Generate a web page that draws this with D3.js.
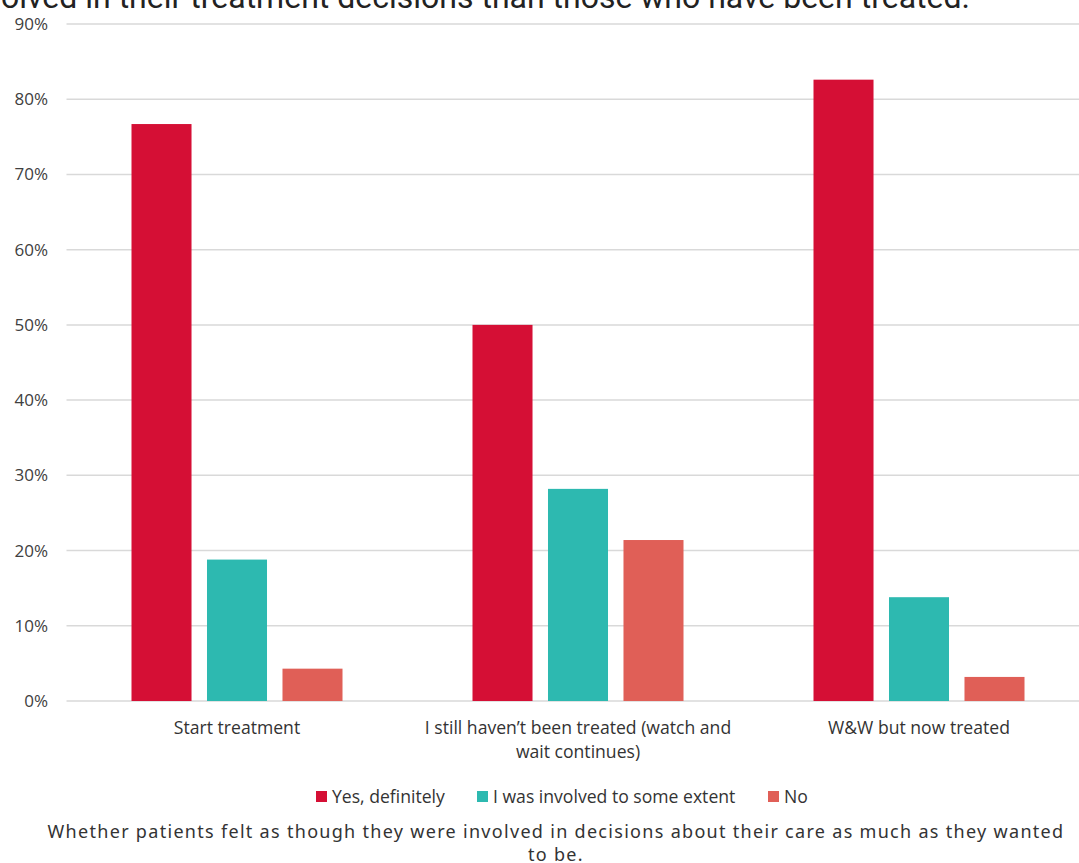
<!DOCTYPE html>
<html><head><meta charset="utf-8">
<script src="https://cdn.jsdelivr.net/npm/d3@7"></script>
<style>
body{margin:0;background:#fff;}
svg{display:block;}
</style></head>
<body>
<svg id="chart" width="1079" height="863"></svg>
<script>
const categories = ["Start treatment", "I still haven\u2019t been treated (watch and wait continues)", "W&W but now treated"];
const categoryLines = [["Start treatment"], ["I still  haven\u2019t been treated (watch and", "wait continues)"], ["W&W but now treated"]];
const seriesNames = ["Yes, definitely", "I was involved to some extent", "No"];
const yesDefinitely = [76.7, 50.0, 82.6];
const someExtent = [18.8, 28.2, 13.8];
const no = [4.3, 21.4, 3.2];
const seriesValues = [yesDefinitely, someExtent, no];
const yTicks = [0, 10, 20, 30, 40, 50, 60, 70, 80, 90];
const colors = ["#D50F35", "#2DB9B0", "#E05F57"];
const titleText = "Patients on watch and wait felt less involved in their treatment decisions than those who have been treated.";
const captionLines = ["Whether patients felt as though they were involved in decisions about their care as much as they wanted", "to be."];

const svg = d3.select("#chart");
const mLeft = 66.5, mRight = 1089.5, mTop = 24, mBottom = 701;

const x = d3.scaleBand().domain(categories).range([mLeft, mRight]);
const y = d3.scaleLinear().domain([0, 90]).range([mBottom, mTop]);
const xs = d3.scaleBand().domain(seriesNames).range([-105.5, 105.5]).paddingInner(0.205).paddingOuter(0);

// Title (clipped at top)
svg.append("text").attr("x", 970).attr("y", 8).attr("text-anchor", "end")
  .attr("font-family", "Roboto").attr("font-size", 32).attr("fill", "#222")
  .text(titleText);

// gridlines
svg.append("g").selectAll("line").data(yTicks).join("line")
  .attr("x1", mLeft).attr("x2", mRight)
  .attr("y1", d => y(d)).attr("y2", d => y(d))
  .attr("stroke", "#d9d9d9").attr("stroke-width", 1.5);

// y axis labels
const yAxis = d3.axisLeft(y).tickValues(yTicks).tickFormat(d => d + "%").tickSize(0).tickPadding(0);
const gy = svg.append("g").attr("transform", "translate(48,0)").call(yAxis);
gy.select(".domain").remove();
gy.selectAll("text").attr("font-family", "Open Sans").attr("font-size", 17).attr("fill", "#404040").attr("dy", "0.32em");

// bars
const groups = svg.append("g").selectAll("g").data(categories).join("g")
  .attr("transform", c => `translate(${x(c) + x.bandwidth()/2},0)`);
groups.selectAll("rect").data((c, i) => seriesNames.map((s, j) => ({s, v: seriesValues[j][i], j})))
  .join("rect")
  .attr("x", d => xs(d.s))
  .attr("width", xs.bandwidth())
  .attr("y", d => y(d.v))
  .attr("height", d => mBottom - y(d.v))
  .attr("fill", d => colors[d.j]);

// category labels
const cl = svg.append("g").selectAll("text").data(categories).join("text")
  .attr("text-anchor", "middle")
  .attr("font-family", "Open Sans").attr("font-size", 17.6).attr("fill", "#333");
cl.each(function(c, i) {
  categoryLines[i].forEach((line, k) => {
    d3.select(this).append("tspan").attr("x", x(c) + x.bandwidth()/2).attr("y", 734 + k * 24).text(line);
  });
});

// legend
const legendX = [316, 477, 768];
const lg = svg.append("g").selectAll("g").data(seriesNames).join("g")
  .attr("transform", (d, i) => `translate(${legendX[i]},797)`);
lg.append("rect").attr("x", 0).attr("y", -6).attr("width", 11).attr("height", 11).attr("fill", (d, i) => colors[i]);
lg.append("text").attr("x", 16).attr("y", 0).attr("dy", "0.35em")
  .attr("font-family", "Open Sans").attr("font-size", 17.6).attr("fill", "#333").text(d => d);

// caption
svg.append("g").selectAll("text").data(captionLines).join("text")
  .attr("x", 556).attr("y", (d, i) => 838 + i * 23)
  .attr("text-anchor", "middle")
  .attr("font-family", "Noto Sans").attr("font-size", 18).attr("letter-spacing", 1.3).attr("fill", "#333")
  .text(d => d);
</script>
</body></html>
